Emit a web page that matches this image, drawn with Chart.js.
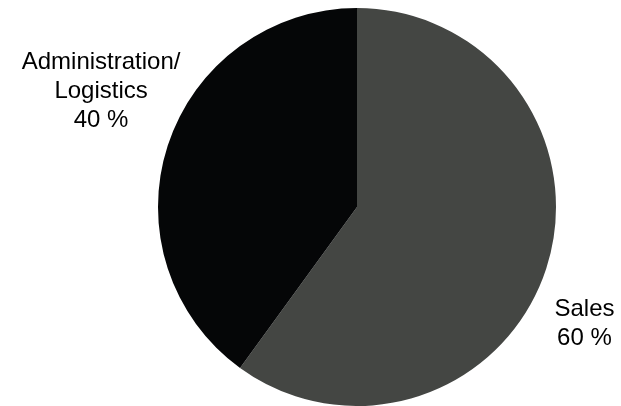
<!DOCTYPE html>
<html>
<head>
<meta charset="utf-8">
<script src="https://cdn.jsdelivr.net/npm/chart.js@4/dist/chart.umd.min.js"></script>
<style>
  html, body { margin: 0; padding: 0; background: #ffffff; }
  #wrap { width: 621px; height: 406px; position: relative; }
</style>
</head>
<body>
<div id="wrap"><canvas id="c" width="621" height="406"></canvas></div>
<script>
// Staff split by department (percent)
const categories = ['Sales', 'Administration/\nLogistics'];
const shares = [60, 40];
const sliceColors = ['#444643', '#050607'];

// Label anchor for each slice, in units of the pie radius from its centre
// [horizontal centre of the text block, baseline of the first line]
const labelAnchors = [[1.143, 0.55], [-1.286, -0.693]];

const sliceLabels = {
  id: 'sliceLabels',
  afterDatasetsDraw(chart) {
    const ctx = chart.ctx;
    const meta = chart.getDatasetMeta(0);
    ctx.save();
    ctx.fillStyle = '#000000';
    ctx.font = '24px "Liberation Sans", Arial, sans-serif';
    ctx.textAlign = 'center';
    ctx.textBaseline = 'alphabetic';
    const lineH = 29;
    meta.data.forEach((arc, i) => {
      const r = arc.outerRadius;
      const x = arc.x + labelAnchors[i][0] * r;
      let y = arc.y + labelAnchors[i][1] * r;
      const lines = categories[i].split('\n').concat([shares[i] + ' %']);
      lines.forEach(line => { ctx.fillText(line, x, y); y += lineH; });
    });
    ctx.restore();
  }
};

new Chart(document.getElementById('c'), {
  type: 'pie',
  data: {
    labels: categories.map(c => c.replace('\n', '')),
    datasets: [{
      data: shares,
      backgroundColor: sliceColors,
      borderWidth: 0,
      hoverOffset: 0
    }]
  },
  options: {
    responsive: false,
    animation: false,
    layout: { padding: { left: 158, right: 65, top: 8, bottom: 0 } },
    plugins: {
      legend: { display: false },
      tooltip: { enabled: false }
    }
  },
  plugins: [sliceLabels]
});
</script>
</body>
</html>
